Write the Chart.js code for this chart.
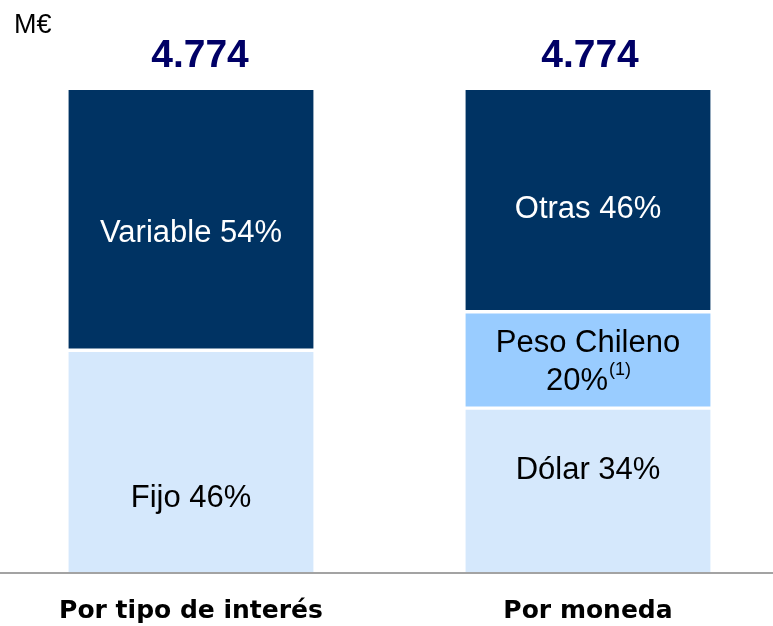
<!DOCTYPE html>
<html>
<head>
<meta charset="utf-8">
<script src="https://cdn.jsdelivr.net/npm/chart.js@4/dist/chart.umd.min.js"></script>
<style>
html,body{margin:0;padding:0;background:#fff;}
#wrap{position:relative;width:773px;height:626px;}
</style>
</head>
<body>
<div id="wrap"><canvas id="c" width="773" height="626"></canvas></div>
<script>
// ---- data ----
const categories = ['Por tipo de interés', 'Por moneda'];
const totals = [4774, 4774];
const unitLabel = 'M€';
const bottomNames = ['Fijo', 'Dólar'];
const bottomValues = [46, 34];
const middleNames = [null, 'Peso Chileno'];
const middleValues = [null, 20];
const middleNotes = [null, '(1)'];
const topNames = ['Variable', 'Otras'];
const topValues = [54, 46];

// ---- style ----
const COL_TOP = '#003363';
const COL_MID = '#99CCFF';
const COL_BOT = '#D5E8FC';
const labelOffsets = { bottom: [37, -20], middle: [3, 3], top: [13, 9] };
const totalOffsets = [9, 2];
const SEG_FONT = '31px "Liberation Sans", Arial, sans-serif';
const NOTE_FONT = '18px "Liberation Sans", Arial, sans-serif';

function fmtThousands(n) {
  return String(n).replace(/\B(?=(\d{3})+(?!\d))/g, '.');
}
function pts(vals) { return vals.map((v, i) => ({ x: i, y: v })); }

const segLabels = {
  id: 'segLabels',
  afterDatasetsDraw(chart) {
    const ctx = chart.ctx;
    const area = chart.chartArea;
    // baseline
    ctx.save();
    ctx.fillStyle = '#a3a3a3';
    ctx.fillRect(0, area.bottom, chart.width, 2);
    ctx.restore();

    chart.data.datasets.forEach((ds, di) => {
      const meta = chart.getDatasetMeta(di);
      meta.data.forEach((el, i) => {
        const v = ds.data[i].y;
        if (v === null || v === undefined) return;
        const name = ds.names[i];
        const cy = (el.y + el.base) / 2 + labelOffsets[ds.key][i];
        ctx.save();
        ctx.fillStyle = ds.textColor;
        ctx.font = SEG_FONT;
        ctx.textAlign = 'center';
        ctx.textBaseline = 'middle';
        if (ds.key === 'middle') {
          ctx.fillText(name, el.x, cy - 19);
          const main = v + '%';
          const note = ds.notes[i] || '';
          ctx.font = SEG_FONT;
          const w1 = ctx.measureText(main).width;
          ctx.font = NOTE_FONT;
          const w2 = ctx.measureText(note).width;
          const x0 = el.x - (w1 + w2) / 2;
          ctx.textAlign = 'left';
          ctx.font = SEG_FONT;
          ctx.fillText(main, x0, cy + 19);
          ctx.font = NOTE_FONT;
          ctx.fillText(note, x0 + w1 + 1, cy + 7);
        } else {
          ctx.fillText(name + ' ' + v + '%', el.x, cy);
        }
        ctx.restore();
      });
    });

    // totals and category labels
    const xs = chart.scales.x;
    ctx.save();
    ctx.textAlign = 'center';
    ctx.textBaseline = 'middle';
    categories.forEach((c, i) => {
      const x = xs.getPixelForValue(i);
      ctx.fillStyle = '#000066';
      ctx.font = 'bold 39px "Liberation Sans", Arial, sans-serif';
      ctx.fillText(fmtThousands(totals[i]), x + totalOffsets[i], 56);
      ctx.fillStyle = '#000000';
      ctx.font = 'bold 25px "DejaVu Sans", Verdana, sans-serif';
      ctx.fillText(c, x, 611);
    });
    ctx.textAlign = 'left';
    ctx.fillStyle = '#000000';
    ctx.font = '27px "Liberation Sans", Arial, sans-serif';
    ctx.fillText(unitLabel, 14, 26);
    ctx.restore();
  }
};

new Chart(document.getElementById('c'), {
  type: 'bar',
  data: {
    datasets: [
      { key: 'bottom', names: bottomNames, data: pts(bottomValues), backgroundColor: COL_BOT,
        borderColor: '#ffffff', borderWidth: { top: 2, bottom: 0, left: 0, right: 0 }, borderSkipped: false, textColor: '#000000' },
      { key: 'middle', names: middleNames, notes: middleNotes, data: pts(middleValues), backgroundColor: COL_MID,
        borderColor: '#ffffff', borderWidth: { top: 2, bottom: 2, left: 0, right: 0 }, borderSkipped: false, textColor: '#000000' },
      { key: 'top', names: topNames, data: pts(topValues), backgroundColor: COL_TOP,
        borderColor: '#ffffff', borderWidth: { top: 0, bottom: 2, left: 0, right: 0 }, borderSkipped: false, textColor: '#ffffff' }
    ]
  },
  options: {
    responsive: false,
    animation: false,
    barThickness: 245,
    layout: { padding: { top: 90, bottom: 54, left: 0, right: 0 } },
    plugins: { legend: { display: false }, tooltip: { enabled: false } },
    scales: {
      x: { type: 'linear', display: false, offset: false, stacked: true, min: -0.4811, max: 1.4660 },
      y: { display: false, stacked: true, min: 0, max: 100 }
    }
  },
  plugins: [segLabels]
});
</script>
</body>
</html>
